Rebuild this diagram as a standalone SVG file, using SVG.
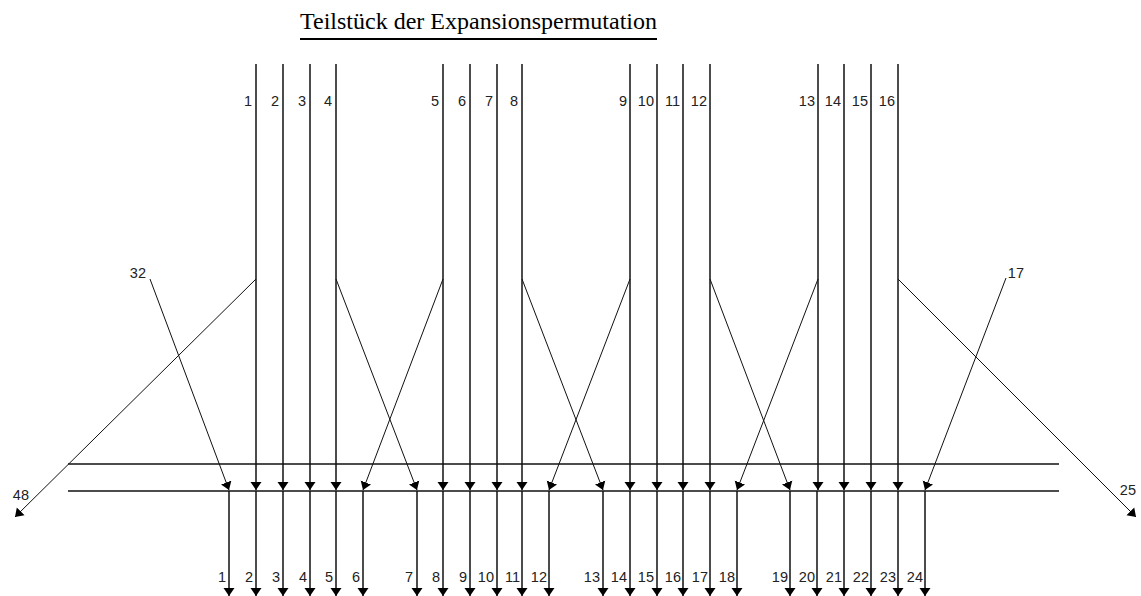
<svg xmlns="http://www.w3.org/2000/svg" width="1141" height="596" viewBox="0 0 1141 596">
<style>
.t{font-family:"Liberation Serif","Times New Roman",serif;font-size:24px;fill:#000}
.l{font-family:"Liberation Sans",Arial,sans-serif;font-size:14.5px;fill:#222;text-anchor:end}
.v{stroke:#111;stroke-width:1.5;fill:none}
.d{stroke:#111;stroke-width:1;fill:none}
.h{stroke:#111;stroke-width:1.4;fill:none}
</style>
<defs>
<marker id="a" viewBox="0 -6 8 12" refX="8" refY="0" markerUnits="userSpaceOnUse" markerWidth="8" markerHeight="12" orient="auto">
<path d="M0,-5.5 L8,0 L0,5.5 z" fill="#000"/>
</marker>
</defs>
<rect width="1141" height="596" fill="#fff"/>
<g id="title">
<text class="t" x="478.5" y="29" text-anchor="middle" textLength="357" lengthAdjust="spacingAndGlyphs">Teilstück der Expansionspermutation</text>
<line x1="300" y1="39" x2="657" y2="39" stroke="#000" stroke-width="2"/>
</g>
<g id="bus">
<line class="h" x1="68" y1="464" x2="1059" y2="464"/>
<line class="h" x1="68" y1="491" x2="1059" y2="491"/>
</g>
<g id="inputs">
<g id="in1"><text class="l" x="252" y="106">1</text></g>
<g id="in2"><text class="l" x="279" y="106">2</text></g>
<g id="in3"><text class="l" x="306" y="106">3</text></g>
<g id="in4"><text class="l" x="332" y="106">4</text></g>
<g id="in5"><text class="l" x="439" y="106">5</text></g>
<g id="in6"><text class="l" x="466" y="106">6</text></g>
<g id="in7"><text class="l" x="493" y="106">7</text></g>
<g id="in8"><text class="l" x="518" y="106">8</text></g>
<g id="in9"><text class="l" x="627" y="106">9</text></g>
<g id="in10"><text class="l" x="654" y="106">10</text></g>
<g id="in11"><text class="l" x="680" y="106">11</text></g>
<g id="in12"><text class="l" x="707" y="106">12</text></g>
<g id="in13"><text class="l" x="815" y="106">13</text></g>
<g id="in14"><text class="l" x="841" y="106">14</text></g>
<g id="in15"><text class="l" x="868" y="106">15</text></g>
<g id="in16"><text class="l" x="895" y="106">16</text></g>
<g id="in32"><text class="l" x="146" y="278">32</text></g>
<g id="in17"><text class="l" x="1024" y="278">17</text></g>
</g>
<g id="outputs">
<g id="out1"><text class="l" x="226" y="582">1</text></g>
<g id="out2"><text class="l" x="253" y="582">2</text></g>
<g id="out3"><text class="l" x="280" y="582">3</text></g>
<g id="out4"><text class="l" x="307" y="582">4</text></g>
<g id="out5"><text class="l" x="333" y="582">5</text></g>
<g id="out6"><text class="l" x="360" y="582">6</text></g>
<g id="out7"><text class="l" x="413" y="582">7</text></g>
<g id="out8"><text class="l" x="440" y="582">8</text></g>
<g id="out9"><text class="l" x="467" y="582">9</text></g>
<g id="out10"><text class="l" x="494" y="582">10</text></g>
<g id="out11"><text class="l" x="520" y="582">11</text></g>
<g id="out12"><text class="l" x="547" y="582">12</text></g>
<g id="out13"><text class="l" x="600" y="582">13</text></g>
<g id="out14"><text class="l" x="627" y="582">14</text></g>
<g id="out15"><text class="l" x="654" y="582">15</text></g>
<g id="out16"><text class="l" x="681" y="582">16</text></g>
<g id="out17"><text class="l" x="708" y="582">17</text></g>
<g id="out18"><text class="l" x="735" y="582">18</text></g>
<g id="out19"><text class="l" x="788" y="582">19</text></g>
<g id="out20"><text class="l" x="815" y="582">20</text></g>
<g id="out21"><text class="l" x="842" y="582">21</text></g>
<g id="out22"><text class="l" x="869" y="582">22</text></g>
<g id="out23"><text class="l" x="896" y="582">23</text></g>
<g id="out24"><text class="l" x="923" y="582">24</text></g>
<g id="out48"><text class="l" x="29" y="500">48</text></g>
<g id="out25"><text class="l" x="1136" y="495">25</text></g>
</g>
<g id="connectors">
<g marker-end="url(#a)">
<line class="v" x1="256" y1="64" x2="256" y2="490"/>
<line class="v" x1="283" y1="64" x2="283" y2="490"/>
<line class="v" x1="310" y1="64" x2="310" y2="490"/>
<line class="v" x1="336" y1="64" x2="336" y2="490"/>
<line class="v" x1="443" y1="64" x2="443" y2="490"/>
<line class="v" x1="470" y1="64" x2="470" y2="490"/>
<line class="v" x1="497" y1="64" x2="497" y2="490"/>
<line class="v" x1="522" y1="64" x2="522" y2="490"/>
<line class="v" x1="630" y1="64" x2="630" y2="490"/>
<line class="v" x1="657" y1="64" x2="657" y2="490"/>
<line class="v" x1="683" y1="64" x2="683" y2="490"/>
<line class="v" x1="710" y1="64" x2="710" y2="490"/>
<line class="v" x1="818" y1="64" x2="818" y2="490"/>
<line class="v" x1="844" y1="64" x2="844" y2="490"/>
<line class="v" x1="871" y1="64" x2="871" y2="490"/>
<line class="v" x1="898" y1="64" x2="898" y2="490"/>
<line class="d" x1="256" y1="279" x2="15" y2="517"/>
<line class="d" x1="150" y1="279" x2="229" y2="490"/>
<line class="d" x1="336" y1="279" x2="417" y2="490"/>
<line class="d" x1="443" y1="279" x2="363" y2="490"/>
<line class="d" x1="522" y1="279" x2="603" y2="490"/>
<line class="d" x1="630" y1="279" x2="549" y2="490"/>
<line class="d" x1="710" y1="279" x2="790" y2="490"/>
<line class="d" x1="818" y1="279" x2="737" y2="490"/>
<line class="d" x1="898" y1="279" x2="1136" y2="517"/>
<line class="d" x1="1006" y1="278" x2="925" y2="490"/>
<line class="v" x1="229" y1="491" x2="229" y2="596"/>
<line class="v" x1="256" y1="491" x2="256" y2="596"/>
<line class="v" x1="283" y1="491" x2="283" y2="596"/>
<line class="v" x1="310" y1="491" x2="310" y2="596"/>
<line class="v" x1="336" y1="491" x2="336" y2="596"/>
<line class="v" x1="363" y1="491" x2="363" y2="596"/>
<line class="v" x1="417" y1="491" x2="417" y2="596"/>
<line class="v" x1="443" y1="491" x2="443" y2="596"/>
<line class="v" x1="470" y1="491" x2="470" y2="596"/>
<line class="v" x1="497" y1="491" x2="497" y2="596"/>
<line class="v" x1="522" y1="491" x2="522" y2="596"/>
<line class="v" x1="549" y1="491" x2="549" y2="596"/>
<line class="v" x1="603" y1="491" x2="603" y2="596"/>
<line class="v" x1="630" y1="491" x2="630" y2="596"/>
<line class="v" x1="657" y1="491" x2="657" y2="596"/>
<line class="v" x1="683" y1="491" x2="683" y2="596"/>
<line class="v" x1="710" y1="491" x2="710" y2="596"/>
<line class="v" x1="737" y1="491" x2="737" y2="596"/>
<line class="v" x1="790" y1="491" x2="790" y2="596"/>
<line class="v" x1="817" y1="491" x2="817" y2="596"/>
<line class="v" x1="844" y1="491" x2="844" y2="596"/>
<line class="v" x1="871" y1="491" x2="871" y2="596"/>
<line class="v" x1="898" y1="491" x2="898" y2="596"/>
<line class="v" x1="925" y1="491" x2="925" y2="596"/>
</g>
</g>
</svg>
